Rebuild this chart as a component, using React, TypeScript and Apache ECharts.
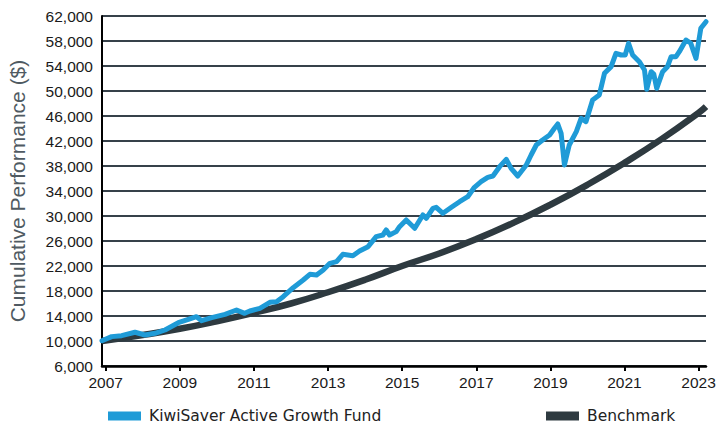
import React, { useEffect, useRef } from "react";
import * as echarts from "echarts";

const xTickYears = [2007, 2009, 2011, 2013, 2015, 2017, 2019, 2021, 2023];

const fundDates = [
  2006.9, 2007.16, 2007.43, 2007.79, 2008.06, 2008.33, 2008.6, 2008.96, 2009.23, 2009.45,
  2009.59, 2009.86, 2010.22, 2010.53, 2010.75, 2010.89, 2011.16, 2011.43, 2011.61, 2011.79,
  2012.06, 2012.33, 2012.51, 2012.69, 2012.87, 2013.05, 2013.23, 2013.4, 2013.67, 2013.85,
  2014.08, 2014.3, 2014.48, 2014.57, 2014.66, 2014.84, 2014.93, 2015.11, 2015.34, 2015.56,
  2015.65, 2015.83, 2015.92, 2016.1, 2016.33, 2016.55, 2016.77, 2016.95, 2017.13, 2017.31,
  2017.45, 2017.63, 2017.81, 2017.94, 2018.12, 2018.35, 2018.48, 2018.62, 2018.79, 2018.98,
  2019.11, 2019.2, 2019.29, 2019.38, 2019.51, 2019.7, 2019.83, 2019.96, 2020.14, 2020.32,
  2020.46, 2020.64, 2020.77, 2020.91, 2021.02, 2021.11, 2021.22, 2021.4, 2021.54, 2021.6,
  2021.72, 2021.79, 2021.87, 2022.03, 2022.16, 2022.26, 2022.39, 2022.48, 2022.66, 2022.79,
  2022.93, 2023.06, 2023.2,
];

const fundValues = [
  10050, 10700, 10850, 11400, 10960, 11230, 11760, 12930, 13470, 13890,
  13250, 13730, 14270, 14960, 14430, 14800, 15230, 16190, 16290, 17090,
  18530, 19760, 20670, 20560, 21360, 22430, 22690, 23870, 23650, 24400,
  25090, 26690, 26960, 27760, 26960, 27500, 28290, 29360, 28030, 30160,
  29630, 31230, 31390, 30430, 31390, 32290, 33090, 34590, 35490, 36190,
  36400, 37890, 39070, 37630, 36400, 38160, 39760, 41360, 42160, 42960,
  44030, 44720, 43230, 38160, 41360, 43490, 45630, 45090, 48560, 49360,
  52830, 53900, 56030, 55760, 55760, 57630, 55760, 54690, 53360, 50270,
  53090, 52720, 50430, 53090, 53890, 55490, 55490, 56290, 58160, 57630,
  55230, 60030, 61090,
];

const benchDates = [
  2006.9, 2008, 2009, 2010, 2011, 2012, 2013, 2014, 2015, 2016, 2017, 2018, 2019, 2020,
  2021, 2022, 2023, 2023.2,
];
const benchValues = [
  10000, 10950, 11950, 13150, 14500, 16000, 17800, 19800, 22000, 24000, 26300, 28900,
  31800, 35000, 38500, 42300, 46500, 47500,
];

const FUND_NAME = "KiwiSaver Active Growth Fund";
const BENCH_NAME = "Benchmark";

export default function App() {
  const ref = useRef<HTMLDivElement>(null);

  useEffect(() => {
    document.body.style.margin = "0";
    if (!ref.current) return;
    const chart = echarts.init(ref.current, undefined, { renderer: "svg" });

    const fundData = fundDates.map((d, i) => [d, fundValues[i]]);
    const benchData = benchDates.map((d, i) => [d, benchValues[i]]);

    const axisFont = {
      fontFamily: "Liberation Sans, Arial, sans-serif",
      fontSize: 15.5,
      color: "#1a1a1a",
    };

    const legendText = {
      fontFamily: "DejaVu Sans, sans-serif",
      fontSize: 15.5,
      color: "#222222",
      padding: [0, 0, 0, 3],
    };

    chart.setOption({
      animation: false,
      backgroundColor: "#ffffff",
      grid: {
        left: 102,
        right: 10,
        top: 16,
        bottom: 59,
        containLabel: false,
        outerBoundsMode: "none",
      },
      legend: [
        {
          data: [{ name: FUND_NAME }],
          left: 108,
          top: 408,
          icon: "rect",
          itemWidth: 33,
          itemHeight: 9,
          padding: 0,
          selectedMode: false,
          textStyle: legendText,
        },
        {
          data: [{ name: BENCH_NAME }],
          left: 546,
          top: 408,
          icon: "rect",
          itemWidth: 33,
          itemHeight: 9,
          padding: 0,
          selectedMode: false,
          textStyle: legendText,
        },
      ],
      xAxis: {
        type: "value",
        min: 2006.9,
        max: 2023.2,
        splitLine: { show: false },
        axisLine: { show: true, onZero: false, lineStyle: { color: "#000000", width: 2.5 } },
        axisTick: {
          show: true,
          length: 5,
          customValues: xTickYears,
          lineStyle: { color: "#000000", width: 2 },
        },
        axisLabel: {
          ...axisFont,
          margin: 8,
          customValues: xTickYears,
          formatter: (v: number) => String(Math.round(v)),
        },
      },
      yAxis: {
        type: "value",
        min: 6000,
        max: 62000,
        interval: 4000,
        name: "Cumulative Performance ($)",
        nameLocation: "middle",
        nameGap: 74,
        nameTextStyle: {
          fontFamily: "Liberation Sans, Arial, sans-serif",
          fontSize: 21,
          color: "#4f5a62",
        },
        axisLine: { show: true, lineStyle: { color: "#000000", width: 2 } },
        axisTick: { show: false },
        axisLabel: {
          ...axisFont,
          margin: 9,
          formatter: (v: number) => v.toLocaleString("en-US"),
        },
        splitLine: { show: true, lineStyle: { color: "#36414a", width: 2 } },
      },
      series: [
        {
          name: BENCH_NAME,
          type: "line",
          data: benchData,
          smooth: true,
          showSymbol: false,
          symbol: "none",
          color: "#2e3a40",
          lineStyle: { color: "#2e3a40", width: 6.5 },
          z: 2,
        },
        {
          name: FUND_NAME,
          type: "line",
          data: fundData,
          showSymbol: false,
          symbol: "none",
          color: "#1f9bd7",
          lineStyle: { color: "#1f9bd7", width: 5, join: "round", cap: "round" },
          z: 3,
        },
      ],
    });

    return () => chart.dispose();
  }, []);

  return <div ref={ref} style={{ width: 716, height: 425 }} />;
}
